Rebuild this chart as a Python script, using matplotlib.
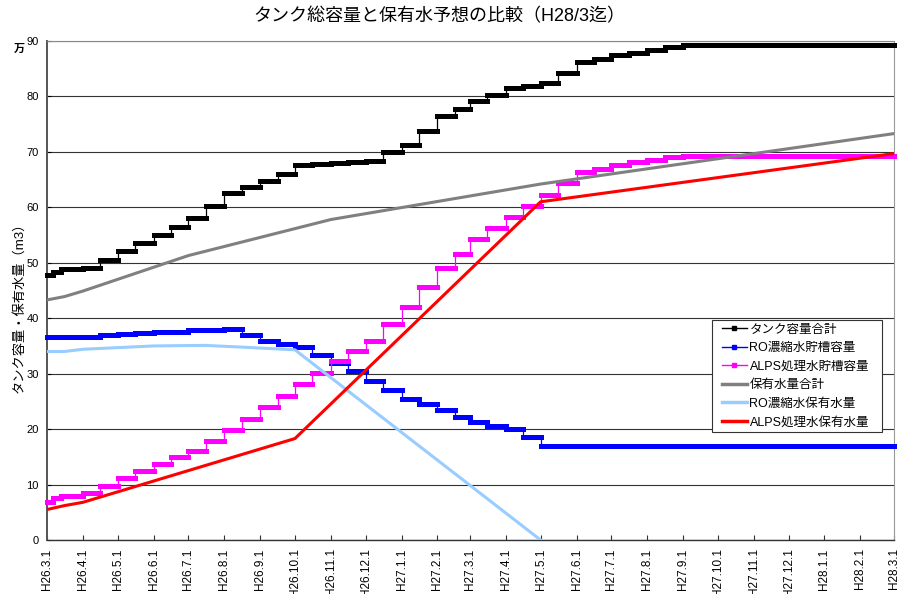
import numpy as np
import pandas as pd
import matplotlib
matplotlib.use("Agg")
import matplotlib.pyplot as plt
import matplotlib.dates as mdates
from matplotlib.lines import Line2D
from matplotlib.patches import Rectangle

plt.rcParams['font.family'] = ['Liberation Sans', 'Noto Sans CJK JP']

START = "2014-03-01"
END = "2016-03-01"

# half-month breakpoints used by the tank-capacity series
half_month = ["2014-04-01", "2014-04-16", "2014-05-01", "2014-05-16", "2014-06-01", "2014-06-16",
              "2014-07-01", "2014-07-16", "2014-08-01", "2014-08-16", "2014-09-01", "2014-09-16",
              "2014-10-01", "2014-10-16", "2014-11-01", "2014-11-16", "2014-12-01", "2014-12-16",
              "2015-01-01", "2015-01-16", "2015-02-01", "2015-02-16", "2015-03-01", "2015-03-16",
              "2015-04-01", "2015-04-16", "2015-05-01", "2015-05-16", "2015-06-01", "2015-06-16",
              "2015-07-01", "2015-07-16", "2015-08-01", "2015-08-16", "2015-09-01"]

# タンク容量合計 (万m3)
tank_dates = ["2014-03-01", "2014-03-06", "2014-03-13"] + half_month
tank_total = [47.8, 48.4, 48.8,
              49.0, 50.5, 52.1, 53.5, 55.0, 56.5, 58.0, 60.3, 62.5, 63.7, 64.7, 66.1,
              67.6, 67.8, 68.0, 68.2, 68.4, 69.9, 71.2, 73.8, 76.4, 77.7, 79.2, 80.3,
              81.5, 81.9, 82.4, 84.3, 86.3, 86.8, 87.4, 87.9, 88.4, 88.9, 89.3]

# RO濃縮水貯槽容量
ro_tank_dates = ["2014-03-01"] + half_month[:27]
ro_tank = [36.7,
           36.7, 37.0, 37.2, 37.3, 37.5, 37.6, 37.8, 37.9, 38.1,
           37.0, 35.9, 35.3, 34.8, 33.4, 31.9, 30.4, 28.7, 27.1, 25.4, 24.5, 23.4,
           22.2, 21.2, 20.6, 20.0, 18.5, 17.0]

# ALPS処理水貯槽容量
alps_tank_dates = ["2014-03-01", "2014-03-06", "2014-03-13"] + half_month
alps_tank = [6.9, 7.5, 8.0,
             8.5, 9.8, 11.1, 12.4, 13.7, 14.9, 16.0, 17.9, 19.8, 21.8, 23.9, 26.0,
             28.1, 30.2, 32.3, 34.1, 35.9, 39.0, 42.1, 45.6, 49.0, 51.6, 54.2, 56.2,
             58.2, 60.2, 62.2, 64.3, 66.3, 67.0, 67.6, 68.1, 68.5, 69.0, 69.3]

# 保有水量合計
held_dates = ["2014-03-01", "2014-03-16", "2014-04-01", "2014-07-01", "2014-11-01", "2015-05-01", "2016-03-01"]
held_total = [43.3, 43.9, 44.9, 51.3, 57.8, 64.2, 73.3]

# RO濃縮水保有水量
ro_held_dates = ["2014-03-01", "2014-03-16", "2014-04-01", "2014-06-01", "2014-07-15", "2014-08-15",
                 "2014-10-01", "2015-05-01"]
ro_held = [34.0, 34.0, 34.4, 35.0, 35.1, 34.8, 34.3, 0.0]

# ALPS処理水保有水量
alps_held_dates = ["2014-03-01", "2014-03-16", "2014-04-01", "2014-10-01", "2015-05-01", "2016-03-01"]
alps_held = [5.5, 6.2, 6.8, 18.3, 61.0, 69.7]

tick_dates = pd.date_range(START, END, freq="MS")
tick_labels = ["H26.3.1", "H26.4.1", "H26.5.1", "H26.6.1", "H26.7.1", "H26.8.1", "H26.9.1",
               "H26.10.1", "H26.11.1", "H26.12.1", "H27.1.1", "H27.2.1", "H27.3.1", "H27.4.1",
               "H27.5.1", "H27.6.1", "H27.7.1", "H27.8.1", "H27.9.1", "H27.10.1", "H27.11.1",
               "H27.12.1", "H28.1.1", "H28.2.1", "H28.3.1"]

series_names = ["タンク容量合計", "RO濃縮水貯槽容量", "ALPS処理水貯槽容量",
                "保有水量合計", "RO濃縮水保有水量", "ALPS処理水保有水量"]
colors = ["#000000", "#0000FF", "#FF00FF", "#808080", "#99CCFF", "#FF0000"]


def to_num(dates):
    return mdates.date2num(pd.to_datetime(dates))


fig = plt.figure(figsize=(9.03, 5.94), dpi=100)
ax = fig.add_axes([47 / 903, 54 / 594, 847 / 903, 499 / 594])

x_end = to_num([END])[0]


def draw_steps(dates, values, color, z):
    x = np.append(to_num(dates), x_end)
    y = list(values) + [values[-1]]
    ax.plot(x, y, drawstyle="steps-post", color=color, lw=0.9, zorder=z)
    bars = ax.hlines(values, x[:-1], x[1:], colors=color, lw=3.6, zorder=z)
    bars.set_capstyle("projecting")
    bars.set_clip_on(False)


draw_steps(tank_dates, tank_total, colors[0], 3)
draw_steps(ro_tank_dates, ro_tank, colors[1], 4)
draw_steps(alps_tank_dates, alps_tank, colors[2], 5)
ax.plot(to_num(held_dates), held_total, color=colors[3], lw=2.2, zorder=6)
ax.plot(to_num(ro_held_dates), ro_held, color=colors[4], lw=2.2, zorder=7)
ax.plot(to_num(alps_held_dates), alps_held, color=colors[5], lw=2.2, zorder=8)

ax.set_xlim(to_num([START])[0], x_end)
ax.set_ylim(0, 90)
ax.set_yticks(np.arange(0, 91, 10))
ax.set_xticks(to_num(tick_dates))
ax.set_xticklabels(tick_labels, rotation=90, va="top", ha="center", fontsize=8.5)
ax.tick_params(axis="y", labelsize=8, direction="in", length=3, pad=6)
ax.tick_params(axis="x", direction="in", length=3.5, pad=6, color="#333333")

ax.yaxis.grid(True, color="#333333", lw=0.8)
ax.set_axisbelow(True)
ax.spines["left"].set_color("#555555")
ax.spines["left"].set_linewidth(1.4)
ax.spines["bottom"].set_color("#333333")
ax.spines["bottom"].set_linewidth(1.0)
ax.spines["right"].set_color("#999999")
ax.spines["top"].set_color("#888888")

# legend box
box = Rectangle((712 / 903, 1 - 432 / 594), 170 / 903, 112 / 594, transform=fig.transFigure,
                facecolor="white", edgecolor="#333333", lw=0.8, zorder=19, clip_on=False)
ax.add_patch(box)

handles = [Line2D([], [], color=c, lw=1, marker="s", markersize=3) for c in colors[:3]] + \
          [Line2D([], [], color=c, lw=2.5) for c in colors[3:]]
leg = ax.legend(handles, series_names, loc="center left",
                bbox_to_anchor=(722 / 903, 1 - 376 / 594), bbox_transform=fig.transFigure,
                fontsize=9, frameon=False, handlelength=2.0, handletextpad=0.2,
                borderpad=0, labelspacing=0.52, borderaxespad=0)
leg.set_zorder(20)

fig.text(439 / 903, 1 - 17 / 594, "タンク総容量と保有水予想の比較（H28/3迄）",
         ha="center", va="center", fontsize=13)
fig.text(19 / 903, 1 - 49 / 594, "万", ha="center", va="center", fontsize=8, fontweight="bold")
fig.text(19 / 903, 1 - 304 / 594, "タンク容量・保有水量（m3）", rotation=90,
         ha="center", va="center", fontsize=9.5)

fig.savefig("out.png", dpi=100)
